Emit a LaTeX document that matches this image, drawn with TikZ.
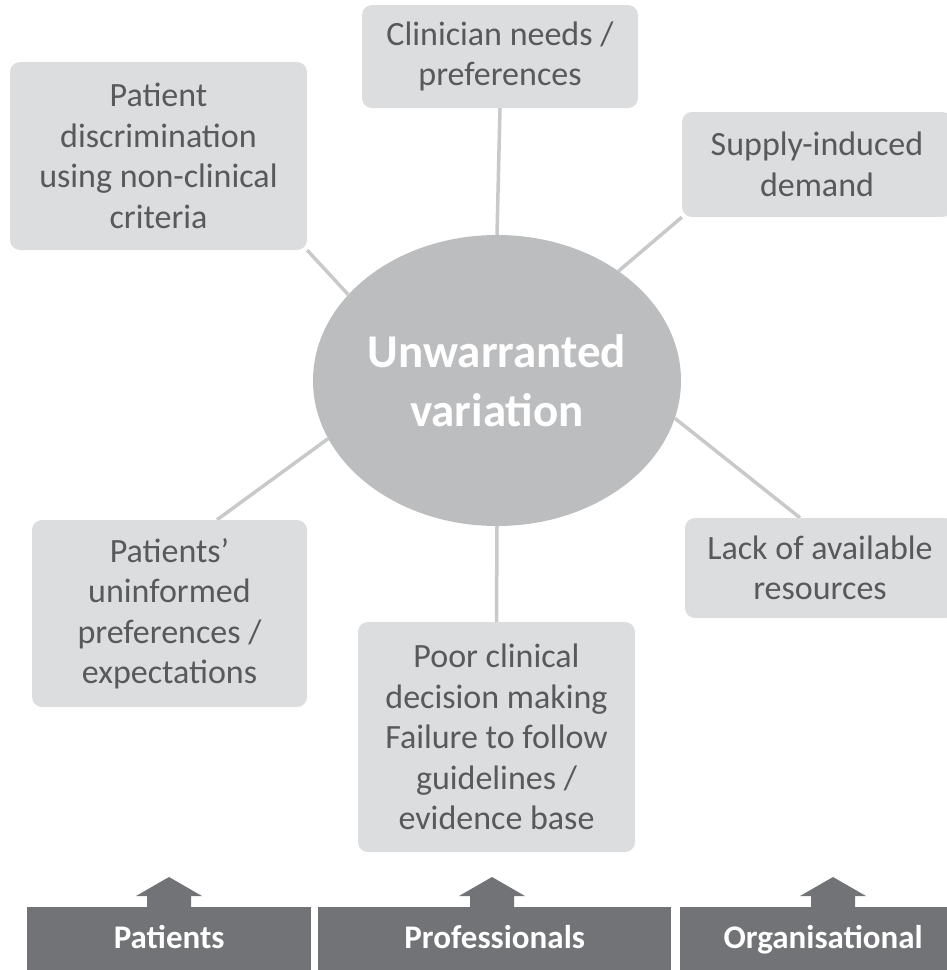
\documentclass[tikz,border=0pt]{standalone}
\usepackage{fontspec}
\setmainfont{Carlito}
\usetikzlibrary{shapes.geometric,calc,backgrounds}

\definecolor{boxfill}{RGB}{220,221,223}
\definecolor{boxtext}{RGB}{88,89,91}
\definecolor{hubfill}{RGB}{188,189,191}
\definecolor{linkgray}{RGB}{200,201,203}
\definecolor{bargray}{RGB}{114,115,118}

% upward block arrow standing on a source bar; #1 is the foot of the shaft
\newcommand\blockarrow[1]{%
  \fill[bargray] ($(#1)+(-22,2)$) -- ($(#1)+(-22,-11)$) -- ($(#1)+(-33,-11)$)
    -- ($(#1)+(0,-30)$) -- ($(#1)+(33,-11)$) -- ($(#1)+(22,-11)$)
    -- ($(#1)+(22,2)$) -- cycle;}

\begin{document}
\begin{tikzpicture}[x=1pt,y=-1pt,
  factor/.style={fill=boxfill, rounded corners=10pt, text=boxtext, align=center,
    inner sep=0pt, font=\fontsize{34}{40.5}\selectfont},
  hub/.style={ellipse, fill=hubfill, inner sep=0pt, text=white, align=center,
    font=\bfseries\fontsize{47}{59}\selectfont},
  link/.style={draw=linkgray, line width=3.5pt},
  source/.style={fill=bargray, text=white, inner sep=0pt, anchor=north west,
    minimum height=64pt, text height=24pt, text depth=6pt,
    font=\bfseries\fontsize{33}{38}\selectfont}]

\useasboundingbox (0,0) rectangle (947,970);
\clip (0,0) rectangle (947,970);

% central hub
\node[hub, minimum width=368pt, minimum height=291pt] (uv) at (497,380.5)
  {Unwarranted\\variation};

% contributing factors
\node[factor, minimum width=276pt, minimum height=103pt] (clin) at (500,56.5)
  {Clinician needs /\\preferences};
\node[factor, minimum width=297pt, minimum height=188pt] (disc) at (158.5,156)
  {Patient\\discrimination\\using non-clinical\\criteria};
\node[factor, minimum width=270pt, minimum height=105pt] (supp) at (817,164.5)
  {Supply-induced\\demand};
\node[factor, minimum width=275pt, minimum height=187pt] (pat) at (169.5,613.5)
  {Patients’\\uninformed\\preferences /\\expectations};
\node[factor, minimum width=270pt, minimum height=100pt] (lack) at (820,568)
  {Lack of available\\resources};
\node[factor, minimum width=277pt, minimum height=230pt] (poor) at (496.5,737)
  {Poor clinical\\decision making\\Failure to follow\\guidelines /\\evidence base};

% spokes from the hub to each factor
\begin{scope}[on background layer]
  \draw[link] (uv.90) -- (clin.south);
  \draw[link] (uv.150.8) -- (disc.south east);
  \draw[link] (uv.42.3) -- (supp.south west);
  \draw[link] (uv.199.2) -- ($(pat.north)+(47.5,0)$);
  \draw[link] (uv.348.4) -- ($(lack.north)+(-20,0)$);
  \draw[link] (uv.270) -- (poor.north);
\end{scope}

% source bars along the bottom
\node[source, minimum width=284pt] (bpat) at (27,907) {Patients};
\node[source, minimum width=353pt] (bpro) at (318,907) {Professionals};
\node[source, minimum width=286pt] (borg) at (680,907) {Organisational};

\coordinate (apat) at (169,907);
\coordinate (apro) at (492,907);
\coordinate (aorg) at (833,907);
\blockarrow{apat}
\blockarrow{apro}
\blockarrow{aorg}

\end{tikzpicture}
\end{document}
